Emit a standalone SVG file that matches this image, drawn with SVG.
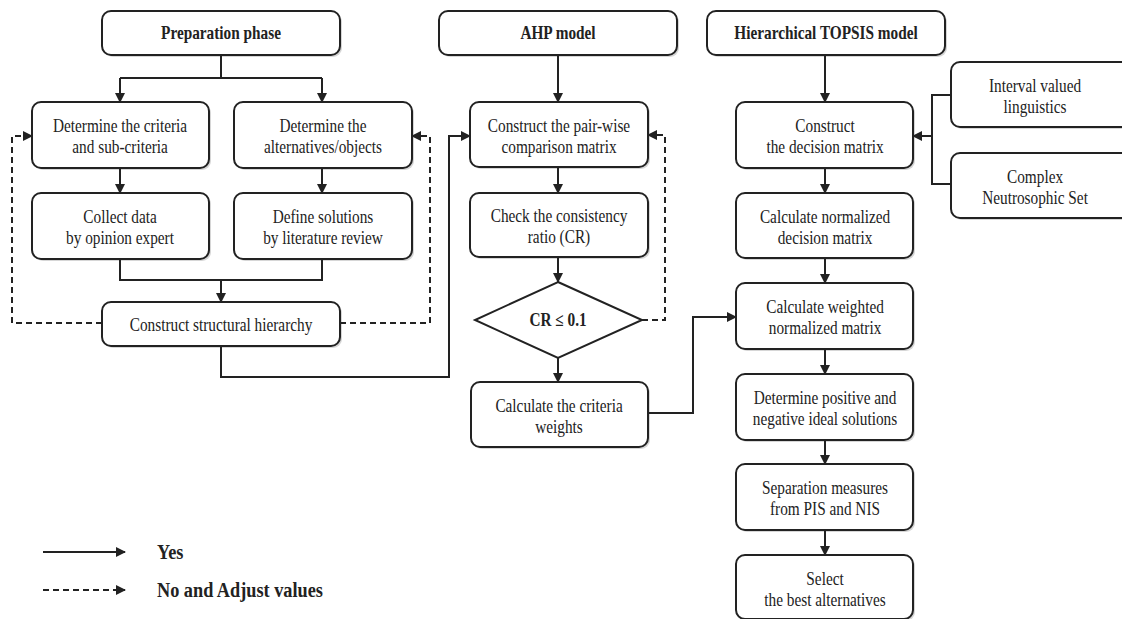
<svg xmlns="http://www.w3.org/2000/svg" width="1122" height="619" viewBox="0 0 1122 619">
<style>
.box{fill:#fff;stroke:#222;stroke-width:2}
.sh{fill:#bbb;stroke:none;opacity:.6}
.t{font-family:"Liberation Serif","Times New Roman",serif;font-size:18px;fill:#222;text-anchor:middle;transform-box:fill-box;transform-origin:center;transform:scaleX(0.85)}
.b{font-weight:bold}
.lg{font-size:21.5px;text-anchor:start;transform-origin:left center}
.ln{fill:none;stroke:#222;stroke-width:2}
.dl{fill:none;stroke:#222;stroke-width:2;stroke-dasharray:6 4}
</style>
<defs>
<marker id="ah" markerWidth="10" markerHeight="10" refX="9" refY="5" orient="auto" markerUnits="userSpaceOnUse">
<path d="M0,0 L10,5 L0,10 Z" fill="#222"/>
</marker>
</defs>

<g id="prep">
<rect class="sh" x="104" y="13" width="238" height="44" rx="9"/>
<rect class="box" x="102" y="11" width="238" height="44" rx="9"/>
<text class="t b" x="221" y="39">Preparation phase</text>
</g>
<g id="crit">
<rect class="sh" x="34" y="104" width="177" height="66" rx="9"/>
<rect class="box" x="32" y="102" width="177" height="66" rx="9"/>
<text class="t" x="120" y="132">Determine the criteria</text>
<text class="t" x="120" y="153">and sub-criteria</text>
</g>
<g id="alt">
<rect class="sh" x="236" y="104" width="178" height="66" rx="9"/>
<rect class="box" x="234" y="102" width="178" height="66" rx="9"/>
<text class="t" x="323" y="132">Determine the</text>
<text class="t" x="323" y="153">alternatives/objects</text>
</g>
<g id="collect">
<rect class="sh" x="34" y="195" width="177" height="66" rx="9"/>
<rect class="box" x="32" y="193" width="177" height="66" rx="9"/>
<text class="t" x="120" y="223">Collect data</text>
<text class="t" x="120" y="244">by opinion expert</text>
</g>
<g id="define">
<rect class="sh" x="236" y="195" width="178" height="66" rx="9"/>
<rect class="box" x="234" y="193" width="178" height="66" rx="9"/>
<text class="t" x="323" y="223">Define solutions</text>
<text class="t" x="323" y="244">by literature review</text>
</g>
<g id="struct">
<rect class="sh" x="104" y="304" width="238" height="44" rx="9"/>
<rect class="box" x="102" y="302" width="238" height="44" rx="9"/>
<text class="t" x="221" y="331">Construct structural hierarchy</text>
</g>

<g id="ahp">
<rect class="sh" x="441" y="13" width="238" height="44" rx="9"/>
<rect class="box" x="439" y="11" width="238" height="44" rx="9"/>
<text class="t b" x="558" y="39">AHP model</text>
</g>
<g id="pair">
<rect class="sh" x="472" y="104" width="178" height="65" rx="9"/>
<rect class="box" x="470" y="102" width="178" height="65" rx="9"/>
<text class="t" x="559" y="132">Construct the pair-wise</text>
<text class="t" x="559" y="153">comparison matrix</text>
</g>
<g id="check">
<rect class="sh" x="472" y="195" width="178" height="64" rx="9"/>
<rect class="box" x="470" y="193" width="178" height="64" rx="9"/>
<text class="t" x="559" y="222">Check the consistency</text>
<text class="t" x="559" y="243">ratio (CR)</text>
</g>
<g id="cr">
<polygon class="box" points="558,282 642,320 558,358 475,320"/>
<text class="t b" x="558" y="326">CR ≤ 0.1</text>
</g>
<g id="weights">
<rect class="sh" x="473" y="384" width="177" height="65" rx="9"/>
<rect class="box" x="471" y="382" width="177" height="65" rx="9"/>
<text class="t" x="559" y="412">Calculate the criteria</text>
<text class="t" x="559" y="433">weights</text>
</g>

<g id="topsis">
<rect class="sh" x="709" y="13" width="238" height="44" rx="9"/>
<rect class="box" x="707" y="11" width="238" height="44" rx="9"/>
<text class="t b" x="826" y="39">Hierarchical TOPSIS model</text>
</g>
<g id="decision">
<rect class="sh" x="738" y="104" width="177" height="66" rx="9"/>
<rect class="box" x="736" y="102" width="177" height="66" rx="9"/>
<text class="t" x="825" y="132">Construct</text>
<text class="t" x="825" y="153">the decision matrix</text>
</g>
<g id="interval">
<rect class="sh" x="953" y="64" width="180" height="65" rx="9"/>
<rect class="box" x="951" y="62" width="180" height="65" rx="9"/>
<text class="t" x="1035" y="92">Interval valued</text>
<text class="t" x="1035" y="113">linguistics</text>
</g>
<g id="complex">
<rect class="sh" x="953" y="155" width="180" height="65" rx="9"/>
<rect class="box" x="951" y="153" width="180" height="65" rx="9"/>
<text class="t" x="1035" y="183">Complex</text>
<text class="t" x="1035" y="204">Neutrosophic Set</text>
</g>
<g id="normalized">
<rect class="sh" x="738" y="195" width="177" height="65" rx="9"/>
<rect class="box" x="736" y="193" width="177" height="65" rx="9"/>
<text class="t" x="825" y="223">Calculate normalized</text>
<text class="t" x="825" y="244">decision matrix</text>
</g>
<g id="weighted">
<rect class="sh" x="738" y="285" width="177" height="66" rx="9"/>
<rect class="box" x="736" y="283" width="177" height="66" rx="9"/>
<text class="t" x="825" y="313">Calculate weighted</text>
<text class="t" x="825" y="334">normalized matrix</text>
</g>
<g id="ideal">
<rect class="sh" x="738" y="376" width="177" height="66" rx="9"/>
<rect class="box" x="736" y="374" width="177" height="66" rx="9"/>
<text class="t" x="825" y="404">Determine positive and</text>
<text class="t" x="825" y="425">negative ideal solutions</text>
</g>
<g id="separation">
<rect class="sh" x="738" y="466" width="177" height="66" rx="9"/>
<rect class="box" x="736" y="464" width="177" height="66" rx="9"/>
<text class="t" x="825" y="494">Separation measures</text>
<text class="t" x="825" y="515">from PIS and NIS</text>
</g>
<g id="select">
<rect class="sh" x="738" y="557" width="177" height="64" rx="9"/>
<rect class="box" x="736" y="555" width="177" height="64" rx="9"/>
<text class="t" x="825" y="585">Select</text>
<text class="t" x="825" y="606">the best alternatives</text>
</g>

<g id="connectors">
<path class="ln" d="M221,55 V78 M120,78 H322"/>
<path class="ln" d="M120,78 V102" marker-end="url(#ah)"/>
<path class="ln" d="M322,78 V102" marker-end="url(#ah)"/>
<path class="ln" d="M120,168 V193" marker-end="url(#ah)"/>
<path class="ln" d="M322,168 V193" marker-end="url(#ah)"/>
<path class="ln" d="M120,259 V280 H322 V259"/>
<path class="ln" d="M221,280 V302" marker-end="url(#ah)"/>
<path class="dl" d="M102,323 H12 V136 H32" marker-end="url(#ah)"/>
<path class="dl" d="M340,323 H430 V136 H412" marker-end="url(#ah)"/>
<path class="ln" d="M221,346 V377 H449 V136 H470" marker-end="url(#ah)"/>
<path class="ln" d="M558,55 V102" marker-end="url(#ah)"/>
<path class="ln" d="M558,167 V193" marker-end="url(#ah)"/>
<path class="ln" d="M558,257 V282" marker-end="url(#ah)"/>
<path class="ln" d="M558,358 V382" marker-end="url(#ah)"/>
<path class="dl" d="M642,320 H665 V135 H648" marker-end="url(#ah)"/>
<path class="ln" d="M648,413 H693 V317 H736" marker-end="url(#ah)"/>
<path class="ln" d="M825,55 V102" marker-end="url(#ah)"/>
<path class="ln" d="M951,95 H932 V184 H951"/>
<path class="ln" d="M932,136 H913" marker-end="url(#ah)"/>
<path class="ln" d="M825,168 V193" marker-end="url(#ah)"/>
<path class="ln" d="M825,258 V283" marker-end="url(#ah)"/>
<path class="ln" d="M825,349 V374" marker-end="url(#ah)"/>
<path class="ln" d="M825,440 V464" marker-end="url(#ah)"/>
<path class="ln" d="M825,530 V555" marker-end="url(#ah)"/>
</g>

<g id="legend">
<path class="ln" d="M43,552 H125" marker-end="url(#ah)"/>
<path class="dl" d="M43,590 H125" marker-end="url(#ah)"/>
<text class="t b lg" x="157" y="559">Yes</text>
<text class="t b lg" x="157" y="597">No and Adjust values</text>
</g>
</svg>
